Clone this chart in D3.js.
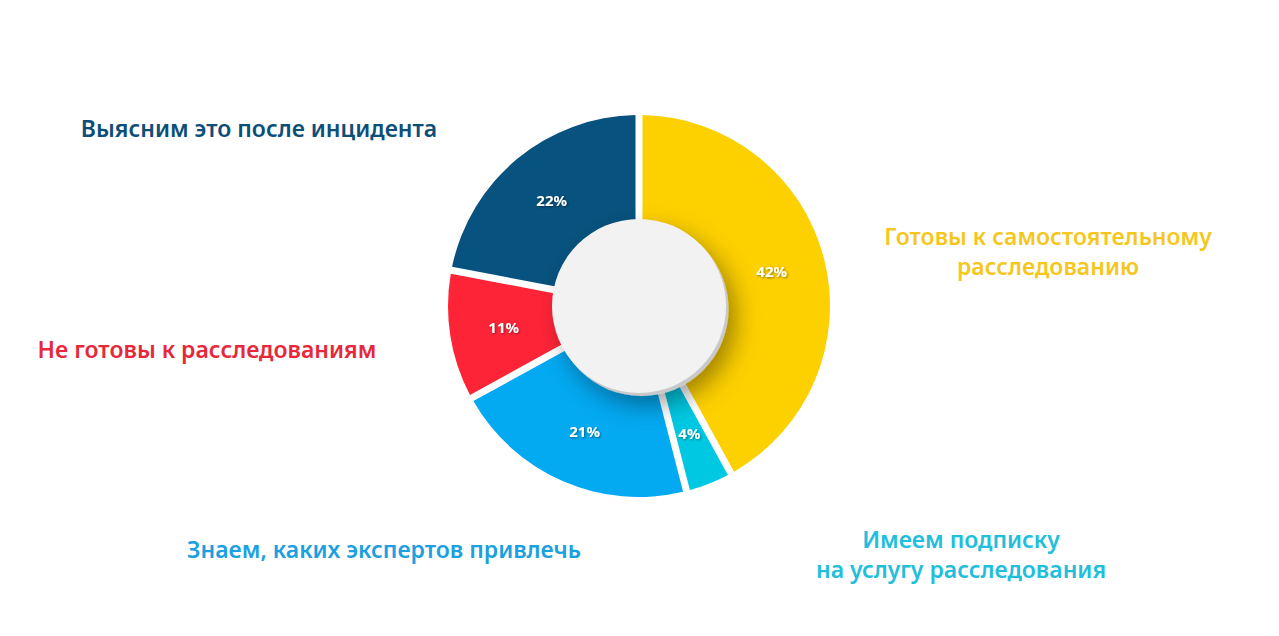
<script src="https://d3js.org/d3.v7.min.js"></script>
<style>
  body { margin: 0; background: #fff; }
</style>
<svg></svg>
<script>
    var width = 1279, height = 636;
    var cx = 639, cy = 306;
    var outerR = 191, innerR = 60, holeR = 87, labelR = 137;

    // slices, clockwise from 12 o'clock
    const names = ['Готовы к самостоятельному|расследованию', 'Имеем подписку|на услугу расследования',
        'Знаем, каких экспертов привлечь', 'Не готовы к расследованиям', 'Выясним это после инцидента'];
    const values = [42, 4, 21, 11, 22];
    const sliceColors = ['#fdd000', '#00c8e2', '#03a9f1', '#fe2437', '#07527e'];
    const textColors = ['#f5c71c', '#22bedc', '#1ba0e1', '#e7283a', '#0d4e79'];
    // where the outside captions sit (centre x, first baseline y)
    const captionPos = [[1048, 245], [961, 548], [384, 558], [207, 358], [259, 137]];

    var svg = d3.select('svg')
        .attr('width', width)
        .attr('height', height)
        .attr('viewBox', [0, 0, width, height])

    var defs = svg.append('defs')
    defs.append('filter').attr('id', 'hole')
        .attr('x', '-50%').attr('y', '-50%').attr('width', '200%').attr('height', '200%')
        .append('feDropShadow')
        .attr('dx', 7).attr('dy', 9).attr('stdDeviation', 12)
        .attr('flood-color', '#000').attr('flood-opacity', 0.38)
    defs.append('filter').attr('id', 'txt')
        .append('feDropShadow')
        .attr('dx', 1).attr('dy', 1).attr('stdDeviation', 1)
        .attr('flood-color', '#000').attr('flood-opacity', 0.45)

    var pie = d3.pie().sort(null).value(d => d)
    var arcs = pie(values)

    var arc = d3.arc()
        .innerRadius(innerR)
        .outerRadius(outerR)
        .padAngle(0.07)
        .padRadius(100)

    var labelArc = d3.arc().innerRadius(labelR).outerRadius(labelR)

    var g = svg.append('g').attr('transform', `translate(${cx},${cy})`)

    g.selectAll('path.slice')
        .data(arcs)
        .join('path')
        .attr('class', 'slice')
        .attr('d', arc)
        .attr('fill', (d, i) => sliceColors[i])

    // centre disc with a soft shadow and a grey rim
    g.append('circle')
        .attr('cx', 2.5).attr('cy', 3)
        .attr('r', holeR)
        .attr('fill', '#c9c9cb')
        .attr('filter', 'url(#hole)')
    g.append('circle')
        .attr('r', holeR)
        .attr('fill', '#f2f2f3')

    g.selectAll('text.pct')
        .data(arcs)
        .join('text')
        .attr('class', 'pct')
        .attr('transform', d => `translate(${labelArc.centroid(d)})`)
        .attr('text-anchor', 'middle')
        .attr('dy', '0.35em')
        .attr('font-family', 'Noto Sans, sans-serif')
        .attr('font-weight', 700)
        .attr('font-size', 15)
        .attr('fill', '#fff')
        .attr('filter', 'url(#txt)')
        .text(d => d.value + '%')

    var captions = svg.append('g')
        .attr('font-family', 'Noto Sans, sans-serif')
        .attr('font-weight', 600)
        .attr('font-size', 23)
        .attr('text-anchor', 'middle')

    names.forEach((n, i) => {
        var t = captions.append('text')
            .attr('x', captionPos[i][0])
            .attr('y', captionPos[i][1])
            .attr('fill', textColors[i])
        n.split('|').forEach((line, j) => {
            t.append('tspan')
                .attr('x', captionPos[i][0])
                .attr('dy', j ? 30 : 0)
                .text(line)
        })
    })
</script>
